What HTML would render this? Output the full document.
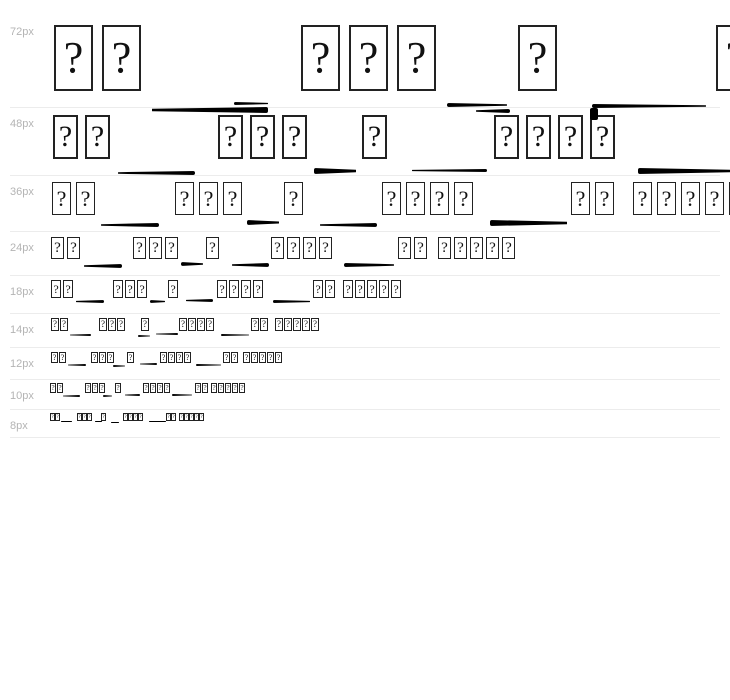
<!DOCTYPE html>
<html><head><meta charset="utf-8"><style>
body{margin:0;width:730px;height:700px;background:#fff;position:relative;overflow:hidden;font-family:"Liberation Sans",sans-serif}
.l{position:absolute;left:10px;font-size:11px;color:#b4b4b4}
.hr{position:absolute;left:10px;width:710px;height:1px;background:#ececec}
.g{position:absolute;display:flex;white-space:nowrap}
.g span{box-sizing:border-box;border:2px solid #222;display:flex;align-items:center;justify-content:center;font-family:"Liberation Serif",serif;color:#111;line-height:1}
.s72 span{width:39px;height:66px;font-size:44px;margin-right:9px;border-width:2.5px}
.s48 span{width:25px;height:44px;font-size:30px;margin-right:7px}
.s36 span{width:19px;height:33px;font-size:22px;margin-right:5px;border-width:1.5px}
.s24 span{width:13px;height:22px;font-size:15px;margin-right:3px;border-width:1.5px}
.s18 span{width:10px;height:18px;font-size:12px;margin-right:2px;border-width:1.5px}
.s14 span{width:8px;height:13px;font-size:9px;margin-right:1px;border-width:1px}
.s12 span{width:7px;height:11px;font-size:8px;margin-right:1px;border-width:1px}
.s10 span{width:6px;height:10px;font-size:7px;margin-right:1px;border-width:1px}
.s8 span{width:5px;height:8px;font-size:5px;margin-right:0;border-width:1px}
.k{position:absolute;background:#000;border-radius:2px;clip-path:polygon(0 30%,100% 0,100% 100%,0 70%)}
.r{clip-path:polygon(0 0,100% 30%,100% 70%,0 100%)}
</style></head><body>
<div class="l" style="top:26px">72px</div>
<div class="l" style="top:118px">48px</div>
<div class="l" style="top:186px">36px</div>
<div class="l" style="top:242px">24px</div>
<div class="l" style="top:286px">18px</div>
<div class="l" style="top:324px">14px</div>
<div class="l" style="top:358px">12px</div>
<div class="l" style="top:390px">10px</div>
<div class="l" style="top:420px">8px</div>
<div class="hr" style="top:107px"></div><div class="hr" style="top:175px"></div><div class="hr" style="top:231px"></div><div class="hr" style="top:275px"></div><div class="hr" style="top:313px"></div><div class="hr" style="top:347px"></div><div class="hr" style="top:379px"></div><div class="hr" style="top:409px"></div><div class="hr" style="top:437px"></div>

<div class="g s72" style="left:54px;top:25px"><span>?</span><span>?</span></div>
<div class="g s72" style="left:301px;top:25px"><span>?</span><span>?</span><span>?</span></div>
<div class="g s72" style="left:518px;top:25px"><span>?</span></div>
<div class="g s72" style="left:716px;top:25px"><span>?</span></div>

<div class="g s48" style="left:53px;top:115px"><span>?</span><span>?</span></div>
<div class="g s48" style="left:218px;top:115px"><span>?</span><span>?</span><span>?</span></div>
<div class="g s48" style="left:362px;top:115px"><span>?</span></div>
<div class="g s48" style="left:494px;top:115px"><span>?</span><span>?</span><span>?</span><span>?</span></div>

<div class="g s36" style="left:52px;top:182px"><span>?</span><span>?</span></div>
<div class="g s36" style="left:175px;top:182px"><span>?</span><span>?</span><span>?</span></div>
<div class="g s36" style="left:284px;top:182px"><span>?</span></div>
<div class="g s36" style="left:382px;top:182px"><span>?</span><span>?</span><span>?</span><span>?</span></div>
<div class="g s36" style="left:571px;top:182px"><span>?</span><span>?</span></div>
<div class="g s36" style="left:633px;top:182px"><span>?</span><span>?</span><span>?</span><span>?</span><span>?</span></div>

<div class="g s24" style="left:51px;top:237px"><span>?</span><span>?</span></div>
<div class="g s24" style="left:133px;top:237px"><span>?</span><span>?</span><span>?</span></div>
<div class="g s24" style="left:206px;top:237px"><span>?</span></div>
<div class="g s24" style="left:271px;top:237px"><span>?</span><span>?</span><span>?</span><span>?</span></div>
<div class="g s24" style="left:398px;top:237px"><span>?</span><span>?</span></div>
<div class="g s24" style="left:438px;top:237px"><span>?</span><span>?</span><span>?</span><span>?</span><span>?</span></div>

<div class="g s18" style="left:51px;top:280px"><span>?</span><span>?</span></div>
<div class="g s18" style="left:113px;top:280px"><span>?</span><span>?</span><span>?</span></div>
<div class="g s18" style="left:168px;top:280px"><span>?</span></div>
<div class="g s18" style="left:217px;top:280px"><span>?</span><span>?</span><span>?</span><span>?</span></div>
<div class="g s18" style="left:313px;top:280px"><span>?</span><span>?</span></div>
<div class="g s18" style="left:343px;top:280px"><span>?</span><span>?</span><span>?</span><span>?</span><span>?</span></div>

<div class="g s14" style="left:51px;top:318px"><span>?</span><span>?</span></div>
<div class="g s14" style="left:99px;top:318px"><span>?</span><span>?</span><span>?</span></div>
<div class="g s14" style="left:141px;top:318px"><span>?</span></div>
<div class="g s14" style="left:179px;top:318px"><span>?</span><span>?</span><span>?</span><span>?</span></div>
<div class="g s14" style="left:251px;top:318px"><span>?</span><span>?</span></div>
<div class="g s14" style="left:275px;top:318px"><span>?</span><span>?</span><span>?</span><span>?</span><span>?</span></div>

<div class="g s12" style="left:51px;top:352px"><span>?</span><span>?</span></div>
<div class="g s12" style="left:91px;top:352px"><span>?</span><span>?</span><span>?</span></div>
<div class="g s12" style="left:127px;top:352px"><span>?</span></div>
<div class="g s12" style="left:160px;top:352px"><span>?</span><span>?</span><span>?</span><span>?</span></div>
<div class="g s12" style="left:223px;top:352px"><span>?</span><span>?</span></div>
<div class="g s12" style="left:243px;top:352px"><span>?</span><span>?</span><span>?</span><span>?</span><span>?</span></div>

<div class="g s10" style="left:50px;top:383px"><span>?</span><span>?</span></div>
<div class="g s10" style="left:85px;top:383px"><span>?</span><span>?</span><span>?</span></div>
<div class="g s10" style="left:115px;top:383px"><span>?</span></div>
<div class="g s10" style="left:143px;top:383px"><span>?</span><span>?</span><span>?</span><span>?</span></div>
<div class="g s10" style="left:195px;top:383px"><span>?</span><span>?</span></div>
<div class="g s10" style="left:211px;top:383px"><span>?</span><span>?</span><span>?</span><span>?</span><span>?</span></div>

<div class="g s8" style="left:50px;top:413px"><span>?</span><span>?</span></div>
<div class="g s8" style="left:77px;top:413px"><span>?</span><span>?</span><span>?</span></div>
<div class="g s8" style="left:101px;top:413px"><span>?</span></div>
<div class="g s8" style="left:123px;top:413px"><span>?</span><span>?</span><span>?</span><span>?</span></div>
<div class="g s8" style="left:166px;top:413px"><span>?</span><span>?</span></div>
<div class="g s8" style="left:179px;top:413px"><span>?</span><span>?</span><span>?</span><span>?</span><span>?</span></div>

<!-- strokes -->
<div class="k" style="left:152px;top:107px;width:116px;height:6px"></div>
<div class="k r" style="left:234px;top:102px;width:34px;height:3px"></div>
<div class="k r" style="left:447px;top:103px;width:60px;height:4px"></div>
<div class="k" style="left:476px;top:109px;width:34px;height:4px"></div>
<div class="k r" style="left:592px;top:104px;width:114px;height:4px"></div>
<div class="k" style="left:590px;top:108px;width:8px;height:12px;clip-path:none"></div>

<div class="k" style="left:118px;top:171px;width:77px;height:4px"></div>
<div class="k r" style="left:314px;top:168px;width:42px;height:6px"></div>
<div class="k" style="left:412px;top:169px;width:75px;height:3px"></div>
<div class="k r" style="left:638px;top:168px;width:92px;height:6px"></div>

<div class="k" style="left:101px;top:223px;width:58px;height:4px"></div>
<div class="k r" style="left:247px;top:220px;width:32px;height:5px"></div>
<div class="k" style="left:320px;top:223px;width:57px;height:4px"></div>
<div class="k r" style="left:490px;top:220px;width:77px;height:6px"></div>

<div class="k" style="left:84px;top:264px;width:38px;height:4px"></div>
<div class="k r" style="left:181px;top:262px;width:22px;height:4px"></div>
<div class="k" style="left:232px;top:263px;width:37px;height:4px"></div>
<div class="k r" style="left:344px;top:263px;width:50px;height:4px"></div>

<div class="k" style="left:76px;top:300px;width:28px;height:3px"></div>
<div class="k r" style="left:150px;top:300px;width:15px;height:3px"></div>
<div class="k" style="left:186px;top:299px;width:27px;height:3px"></div>
<div class="k r" style="left:273px;top:300px;width:37px;height:3px"></div>

<div class="k" style="left:70px;top:334px;width:21px;height:2px"></div>
<div class="k r" style="left:138px;top:335px;width:12px;height:2px"></div>
<div class="k" style="left:156px;top:333px;width:22px;height:2px"></div>
<div class="k r" style="left:221px;top:334px;width:28px;height:2px"></div>

<div class="k" style="left:68px;top:364px;width:18px;height:2px"></div>
<div class="k r" style="left:113px;top:365px;width:12px;height:2px"></div>
<div class="k" style="left:140px;top:363px;width:17px;height:2px"></div>
<div class="k r" style="left:196px;top:364px;width:25px;height:2px"></div>

<div class="k" style="left:63px;top:395px;width:17px;height:2px"></div>
<div class="k r" style="left:103px;top:395px;width:9px;height:2px"></div>
<div class="k" style="left:125px;top:394px;width:15px;height:2px"></div>
<div class="k r" style="left:172px;top:394px;width:20px;height:2px"></div>

<div class="k" style="left:61px;top:421px;width:11px;height:1px;clip-path:none"></div>
<div class="k" style="left:95px;top:421px;width:7px;height:1px;clip-path:none"></div>
<div class="k" style="left:111px;top:422px;width:8px;height:1px;clip-path:none"></div>
<div class="k" style="left:149px;top:421px;width:17px;height:1px;clip-path:none"></div>
</body></html>
